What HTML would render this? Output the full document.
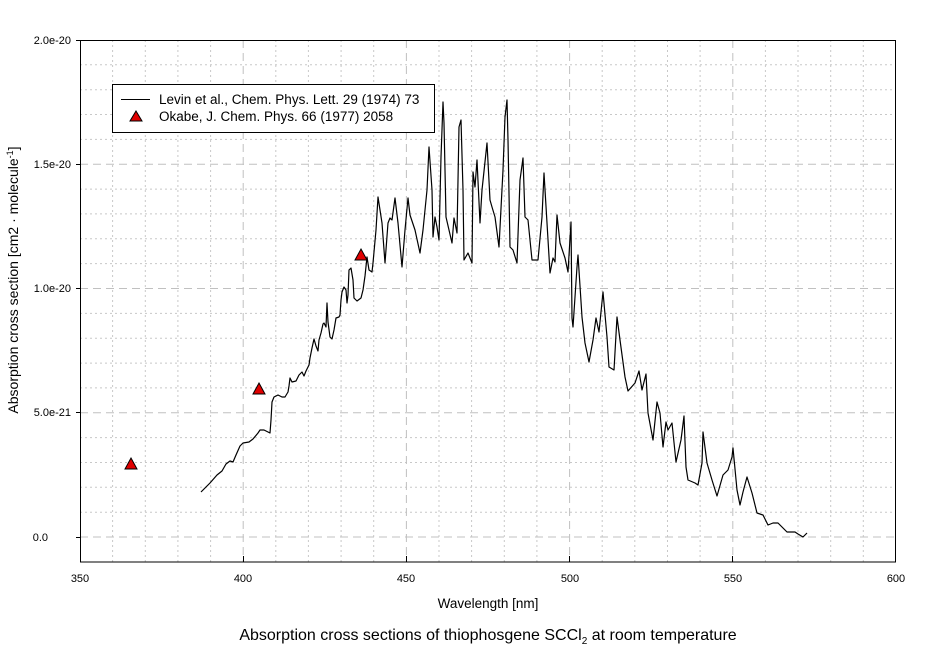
<!DOCTYPE html>
<html><head><meta charset="utf-8"><style>
html,body{margin:0;padding:0;background:#fff;}
svg{display:block;font-family:"Liberation Sans",Arial,sans-serif;}
</style></head><body>
<svg width="936" height="652" viewBox="0 0 936 652" xmlns="http://www.w3.org/2000/svg">
<rect width="936" height="652" fill="#fff"/>
<g stroke="#c8c8c8" stroke-width="1" stroke-dasharray="2,3" fill="none">
<path d="M112.6 40V562M145.3 40V562M177.9 40V562M210.6 40V562M275.8 40V562M308.4 40V562M341.1 40V562M373.7 40V562M439 40V562M471.6 40V562M504.3 40V562M536.9 40V562M602.2 40V562M634.8 40V562M667.5 40V562M700.1 40V562M765.4 40V562M798 40V562M830.7 40V562M863.3 40V562"/>
<path d="M80 512.2H896M80 487.3H896M80 462.5H896M80 437.6H896M80 387.9H896M80 363.1H896M80 338.2H896M80 313.4H896M80 263.6H896M80 238.8H896M80 213.9H896M80 189.1H896M80 139.4H896M80 114.5H896M80 89.7H896M80 64.8H896"/>
</g>
<g stroke="#c0c0c0" stroke-width="1" stroke-dasharray="8,5" fill="none">
<path d="M243.2 40V562M406.4 40V562M569.6 40V562M732.8 40V562"/>
<path d="M80 537H896M80 412.7H896M80 288.5H896M80 164.2H896"/>
</g>
<rect x="80.5" y="40.5" width="815" height="521.5" fill="none" stroke="#000" stroke-width="1"/>
<g stroke="#000" stroke-width="1">
<path d="M76 40.5H80M76 164.5H80M76 288.5H80M76 412.5H80M76 537.5H80"/>
<path d="M80.5 562V556M243.5 562V556M406.5 562V556M569.5 562V556M732.5 562V556M895.5 562V556"/>
</g>
<g font-size="11" fill="#000">
<text x="71" y="44" text-anchor="end">2.0e-20</text>
<text x="71" y="168" text-anchor="end">1.5e-20</text>
<text x="71" y="292" text-anchor="end">1.0e-20</text>
<text x="71" y="416" text-anchor="end">5.0e-21</text>
<text x="48" y="541" text-anchor="end">0.0</text>
<text x="80" y="582" text-anchor="middle">350</text>
<text x="243" y="582" text-anchor="middle">400</text>
<text x="406" y="582" text-anchor="middle">450</text>
<text x="570" y="582" text-anchor="middle">500</text>
<text x="733" y="582" text-anchor="middle">550</text>
<text x="896" y="582" text-anchor="middle">600</text>
</g>
<text x="488" y="608" font-size="13.5" text-anchor="middle">Wavelength [nm]</text>
<text x="488" y="640" font-size="16" text-anchor="middle">Absorption cross sections of thiophosgene SCCl<tspan font-size="10" dy="4">2</tspan><tspan dy="-4"> at room temperature</tspan></text>
<text transform="translate(18,280) rotate(-90)" font-size="14" text-anchor="middle">Absorption cross section [cm2 · molecule<tspan font-size="9" dy="-5">-1</tspan><tspan dy="5">]</tspan></text>
<polyline fill="none" stroke="#000" stroke-width="1.2" stroke-linejoin="round" points="201,492 210,483 217,475 222,471 226,464 230,461 233,462 236,455 240,446 243,443 249,442 253,439 258,433 260,430 264,430 268,432 270,433 271,420 272,402 274,397 278,395 282,397 285,397 288,392 289,386 290,378 292,382 296,381 299,375 302,372 304,376 306,371 309,365 310,358 312,348 314,339 316,346 318,351 319,340 321,333 323,324 324,323 326,327 327,303 328,322 330,337 332,339 334,330 336,318 339,317 340,315 341,300 342,292 344,287 346,290 347,303 348,295 349,270 351,268 353,280 354,298 357,301 361,298 363,290 365,276 367,257 369,270 372,272 373,263 376,230 378,197 382,223 385,263 388,223 390,218 392,220 395,198 398,223 402,267 405,230 408,198 410,215 415,230 420,253 423,230 427,190 429,147 432,190 433,237 435,217 437,227 439,240 441,157 443,102 444,123 446,217 452,243 454,218 457,233 459,127 461,120 463,190 464,260 468,253 472,263 473,172 475,187 477,160 480,223 482,190 487,143 490,200 492,207 495,217 499,247 503,170 505,117 507,100 508,140 510,247 513,250 517,263 520,180 523,158 525,217 528,220 532,260 538,260 542,217 544,173 547,223 550,273 553,258 555,262 557,215 560,243 565,258 568,272 571,222 572,318 573,327 577,267 578,255 582,317 585,343 589,362 593,340 596,318 599,332 603,292 607,337 609,367 614,370 617,317 620,340 625,377 628,391 635,383 639,371 642,390 646,374 648,413 653,440 657,402 660,413 663,447 666,422 668,430 672,423 676,462 681,440 684,416 686,467 688,480 695,483 698,485 702,463 703,432 707,463 712,480 717,496 723,475 728,470 732,457 733,448 737,490 740,505 743,492 747,477 752,493 757,513 763,515 768,525 773,523 778,523 787,532 795,532 798,534 803,537 807,533"/>
<g fill="#e00000" stroke="#000" stroke-width="1">
<polygon points="131,458 137,469 125,469"/>
<polygon points="259,383 265,394 253,394"/>
<polygon points="361,249 367,260 355,260"/>
</g>
<rect x="112.5" y="84.5" width="322" height="48" fill="#fff" stroke="#000" stroke-width="1"/>
<line x1="121" y1="99.5" x2="150" y2="99.5" stroke="#000" stroke-width="1"/>
<polygon points="136,111 142,121 130,121" fill="#e00000" stroke="#000" stroke-width="1"/>
<g font-size="13.5" fill="#000">
<text x="159" y="104">Levin et al., Chem. Phys. Lett. 29 (1974) 73</text>
<text x="159" y="121">Okabe, J. Chem. Phys. 66 (1977) 2058</text>
</g>
</svg>
</body></html>
